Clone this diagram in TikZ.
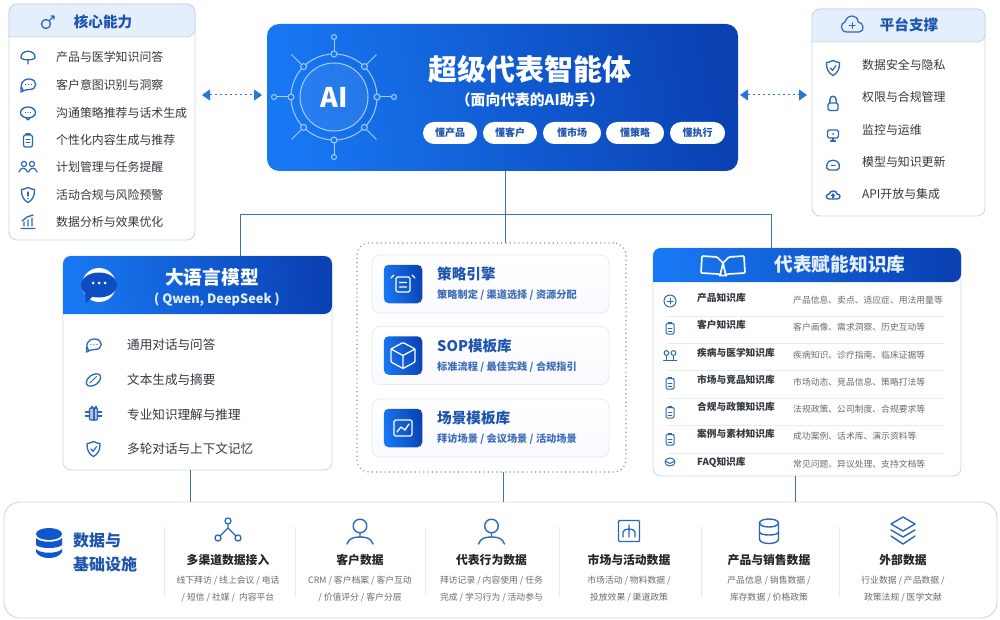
\documentclass[tikz,border=0pt]{standalone}
\usepackage{fontspec}
\setmainfont{Noto Sans CJK SC}
\usetikzlibrary{arrows.meta,positioning}
\definecolor{blueA}{HTML}{1877F2}
\definecolor{blueB}{HTML}{0A42B4}
\definecolor{iconblue}{HTML}{2C66B8}
\definecolor{titleblue}{HTML}{1D55AE}
\definecolor{edgeblue}{HTML}{4070B8}
\definecolor{hdrlight}{HTML}{E4EFFB}
\definecolor{frameblue}{HTML}{CAD7EB}
\definecolor{ruleblue}{HTML}{E6EBF2}
\definecolor{textdark}{HTML}{33393F}
\definecolor{textsoft}{HTML}{666C74}
\definecolor{ringblue}{HTML}{A8CCFA}
\definecolor{dotgray}{HTML}{7D8CA3}

\tikzset{
  ic/.style={draw=iconblue,line width=1pt,line cap=round,line join=round},
  icw/.style={draw=white,line width=1.3pt,line cap=round,line join=round},
  % icons, drawn round 0,0
  keyicon/.pic={\draw[ic,line width=1.3pt] (-2,2) circle [radius=4.5];
    \draw[ic,line width=1.3pt] (1.5,-1.5) -- (6,-6) (3,-6) -- (6,-6) -- (6,-3);},
  pinicon/.pic={\draw[ic,line width=1.3pt] (0,7) -- (0,3) (-7,1) .. controls (-8,-8) and (8,-8) .. (7,1) .. controls (5,3.5) and (-5,3.5) .. (-7,1) -- cycle;},
  chaticon/.pic={\draw[ic,line width=1.3pt] (-5,5) .. controls (-9,1) and (-6,-6) .. (1,-6) .. controls (10,-6) and (10,5) .. (1,4.5) .. controls (-1,4.5) and (-3,5) .. (-7,7) -- (-7,2);
    \fill[iconblue] (-2.5,-0.5) circle [radius=.7] (0.5,-0.5) circle [radius=.7] (3.5,-0.5) circle [radius=.7];},
  bubbleicon/.pic={\draw[ic,line width=1.3pt] (0,-0.5) ellipse [x radius=7.5,y radius=5.5];
    \draw[ic,line width=1.3pt] (-2,5) -- (0,7) -- (2,5);
    \fill[iconblue] (-2.5,-0.5) circle [radius=.7] (0,-0.5) circle [radius=.7] (2.5,-0.5) circle [radius=.7];},
  clipicon/.pic={\draw[ic,line width=1.3pt,rounded corners=1.5] (-4.5,-5) rectangle (4.5,7);
    \draw[ic,line width=1.6pt] (-2,-6) -- (2,-6);
    \draw[ic] (-2,0) -- (2,0) (-2,3) -- (2,3);},
  peopleicon/.pic={\draw[ic,line width=1.2pt] (-4,-3) circle [radius=2.6] (4,-3) circle [radius=2.6];
    \draw[ic,line width=1.2pt] (-9,5) .. controls (-8,0) and (-2,0) .. (-.5,5) (.5,5) .. controls (2,0) and (8,0) .. (9,5);},
  shieldicon/.pic={\draw[ic,line width=1.3pt] (0,-7.5) .. controls (3,-6) and (5,-5.5) .. (6.5,-5.5) .. controls (7,1) and (4,5.5) .. (0,7.5) .. controls (-4,5.5) and (-7,1) .. (-6.5,-5.5) .. controls (-5,-5.5) and (-3,-6) .. (0,-7.5) -- cycle;},
  shieldbar/.pic={\pic {shieldicon}; \draw[ic,line width=1.3pt] (0,-3) -- (0,1) (0,3.5) -- (0,3.6);},
  shieldok/.pic={\pic {shieldicon}; \draw[ic,line width=1.2pt] (-2.8,0) -- (-.5,2.3) -- (3,-2.3);},
  charticon/.pic={\draw[ic,line width=1.3pt] (-7,6.5) -- (7,6.5) (-4,4) -- (-4,0) (0,4) -- (0,-2) (4,4) -- (4,-4) (-6,-1) -- (-1,-5) -- (5,-7);},
  cloudicon/.pic={\draw[ic,line width=1.2pt] (-5,7) .. controls (-12,7) and (-12,-2) .. (-7,-3) .. controls (-5,-11) and (6,-11) .. (6,-3) .. controls (12,-3) and (13,7) .. (7,7) -- cycle;
    \draw[ic] (0,-2.5) -- (0,3.5) (-3,.5) -- (3,.5);},
  lockicon/.pic={\draw[ic,line width=1.4pt,rounded corners=1.5] (-5,0) rectangle (5,7.5);
    \draw[ic,line width=1.4pt] (-3.2,0) -- (-3.2,-3) .. controls (-3.2,-8) and (3.2,-8) .. (3.2,-3) -- (3.2,0);},
  screenicon/.pic={\draw[ic,line width=1.3pt,rounded corners=1.5] (-5.5,-5) rectangle (5.5,3);
    \draw[ic,line width=1.3pt] (-2.5,6) -- (2.5,6) (0,3) -- (0,6);
    \fill[iconblue] (0,-1) circle [radius=1];},
  domeicon/.pic={\draw[ic,line width=1.3pt,rounded corners=2] (-6,5) -- (-6.5,1) .. controls (-5,-6) and (5,-6) .. (6.5,1) -- (6,5) -- cycle;
    \draw[ic] (-2,1) -- (2,1);},
  cloudupicon/.pic={\draw[ic,line width=1.4pt] (-4,4) .. controls (-8,4) and (-7,-1) .. (-4,-1) .. controls (-3,-5) and (4,-5) .. (4,-1) .. controls (8,-1) and (8,4) .. (4,4) -- cycle;
    \fill[iconblue] (0,-2) -- (2.5,1) -- (1,1) -- (1,3.5) -- (-1,3.5) -- (-1,1) -- (-2.5,1) -- cycle;},
  tagicon/.pic={\draw[ic,line width=1.3pt,rotate=35] (0,0) ellipse [x radius=8,y radius=5];
    \draw[ic] (-3.5,3) -- (3,-3.5);},
  crossicon/.pic={\draw[ic,line width=1.3pt,rounded corners=1,fill=iconblue!35] (-4,-6) rectangle (4,6);
    \draw[ic,line width=2pt] (-8,-2) -- (-4,-2) (-8,2) -- (-4,2) (4,-2) -- (8,-2) (4,2) -- (8,2) (-2,-7.5) -- (-2,-6) (2,-7.5) -- (2,-6) (0,-6) -- (0,6);},
  plusicon/.pic={\draw[ic] (0,0) circle [radius=6]; \draw[ic] (-3,0) -- (3,0) (0,-3) -- (0,3);},
  clipthin/.pic={\draw[ic,rounded corners=1.2] (-4,-4.5) rectangle (4,6);
    \draw[ic,line width=1.3pt] (-1.5,-5.5) -- (1.5,-5.5);
    \draw[ic,line width=.7pt] (-2,0) -- (2,0) (-2,3) -- (2,3);},
  groupicon/.pic={\draw[ic] (-3.5,-3) circle [radius=2.4] (3.5,-3) circle [radius=2.4];
    \draw[ic] (-3.5,-.5) -- (-3.5,3.5) (3.5,-.5) -- (3.5,3.5) (-6.5,4.5) -- (6.5,4.5);},
  maillet/.pic={\draw[ic] (0,0) ellipse [x radius=5,y radius=4]; \draw[ic] (-4.5,-1) -- (0,1.5) -- (4.5,-1);},
  % white icons on the blue tiles
  docwhite/.pic={\draw[icw,rounded corners=1.5] (-7,-7) rectangle (7,8);
    \draw[icw] (-3.5,-1.5) -- (3.5,-1.5) (-3.5,3) -- (3.5,3) (-12,-6) -- (-9,-9) (12,-6) -- (9,-9);},
  cubewhite/.pic={\draw[icw,rounded corners=1] (0,-13) -- (12,-6.5) -- (12,6.5) -- (0,13) -- (-12,6.5) -- (-12,-6.5) -- cycle;
    \draw[icw] (-12,-6.5) -- (0,0) -- (12,-6.5) (0,0) -- (0,13);},
  trendwhite/.pic={\draw[icw,rounded corners=1.5] (-9,-8) rectangle (9,8);
    \draw[icw] (-6,4) -- (-2,-1) -- (2,2) -- (6,-4);},
  bookwhite/.pic={\draw[icw,line width=1.7pt,rounded corners=1] (0,-2) -- (-6,-8) -- (-21,-9) -- (-22,8) -- (-5,9) -- (0,11) -- (5,9) -- (22,8) -- (21,-9) -- (6,-8) -- cycle (0,-2) -- (-3,11) (0,-2) -- (3,11);},
  % line icons of the bottom strip
  hubicon/.pic={\draw[ic,line width=1.3pt] (0,-10) circle [radius=3] (-10,7) circle [radius=3] (10,7) circle [radius=3];
    \draw[ic,line width=1.3pt] (0,-7) -- (0,-3) (-8,5) -- (0,-3) -- (8,5);},
  personicon/.pic={\draw[ic,line width=1.4pt] (0,-5) circle [radius=6.8];
    \draw[ic,line width=1.4pt] (0,2) -- (0,6) (-13,13) .. controls (-11,7) and (-6,6) .. (0,6) .. controls (6,6) and (11,7) .. (13,13);},
  marketicon/.pic={\draw[ic,line width=1.4pt,rounded corners=1] (-10.5,-10.5) rectangle (10.5,10.5);
    \draw[ic,line width=1.3pt] (0,-6) -- (0,6) (-6,6) -- (-6,1) .. controls (-6,-3) and (6,-3) .. (6,1) -- (6,6);},
  drumicon/.pic={\draw[ic,line width=1.4pt] (0,-8) ellipse [x radius=9.5,y radius=4];
    \draw[ic,line width=1.4pt] (-9.5,-8) -- (-9.5,8) .. controls (-9.5,14) and (9.5,14) .. (9.5,8) -- (9.5,-8);
    \draw[ic,line width=1.4pt] (-9.5,1) .. controls (-9.5,5) and (9.5,5) .. (9.5,1);},
  layericon/.pic={\draw[ic,line width=1.4pt] (0,-14) -- (12,-7) -- (0,0) -- (-12,-7) -- cycle;
    \draw[ic,line width=1.4pt] (-12,-1) -- (0,6) -- (12,-1) (-12,5) -- (0,13) -- (12,5);}
}

\begin{document}
\begin{tikzpicture}[x=1pt,y=-1pt]
  \tikzset{panel/.style = {shape=rectangle,draw=frameblue,line width=0.9pt,fill=white,rounded corners=8,outer sep=0pt,inner sep=0pt}}
  \tikzset{softhead/.style = {fill=hdrlight,draw=frameblue,line width=0.9pt,rounded corners=8}}
  \tikzset{bluefill/.style = {left color=blueA,right color=blueB,shading angle=100,draw=none}}
  \tikzset{headtext/.style = {inner sep=0pt,text=titleblue,font=\fontsize{14.6}{17}\selectfont\bfseries}}
  \tikzset{itemtext/.style = {anchor=west,inner sep=0pt,text=textdark,font=\fontsize{11.9}{14}\selectfont}}
  \tikzset{llmtext/.style = {anchor=west,inner sep=0pt,text=textdark,font=\fontsize{12.6}{15}\selectfont}}
  \tikzset{pill/.style = {shape=rectangle,fill=white,rounded corners=11,minimum height=22,inner sep=0pt,text=titleblue,font=\fontsize{10}{12}\selectfont\bfseries}}
  \tikzset{card/.style = {shape=rectangle,draw=ruleblue,line width=0.9pt,top color=white,bottom color=black!2!blue!2!white,rounded corners=8,minimum width=237,minimum height=58,inner sep=0pt}}
  \tikzset{tile/.style = {shape=rectangle,bluefill,rounded corners=5,minimum size=38.5,inner sep=0pt}}
  \tikzset{cardtitle/.style = {anchor=west,inner sep=0pt,text=titleblue,font=\fontsize{14.6}{17}\selectfont\bfseries}}
  \tikzset{cardsub/.style = {anchor=west,inner sep=0pt,text=titleblue!85!white,font=\fontsize{10.2}{12}\selectfont\bfseries}}
  \tikzset{kbname/.style = {anchor=west,inner sep=0pt,text=textdark,font=\fontsize{9.7}{12}\selectfont\bfseries}}
  \tikzset{kbinfo/.style = {anchor=west,inner sep=0pt,text=textsoft,font=\fontsize{8.8}{11}\selectfont}}
  \tikzset{rule/.style = {draw=ruleblue,line width=0.8pt}}
  \tikzset{colhead/.style = {inner sep=0pt,text=black!85,font=\fontsize{11.8}{14}\selectfont\bfseries}}
  \tikzset{colline/.style = {inner sep=0pt,text=textsoft,font=\fontsize{8.8}{11}\selectfont}}
  \tikzset{edge/.style = {draw=edgeblue,line width=0.9pt}}
  \tikzset{tipA/.tip={Triangle[length=8pt,width=11pt]}}
  \tikzset{dotlink/.style = {tipA-tipA,color=edgeblue!50!blueA,line width=1pt,dash pattern=on 2pt off 3pt}}
  \tikzset{ring/.style = {draw=ringblue,line width=1pt}}

  \useasboundingbox (0,0) rectangle (1000,620);

  \coordinate (busL) at (240,214);
  \coordinate (busM) at (505,214);
  \coordinate (busR) at (771,214);
  \coordinate (dropL) at (190,490);
  \coordinate (dropM) at (503,490);
  \coordinate (dropR) at (795,490);
  \coordinate (linkA) at (202,95);
  \coordinate (linkB) at (262,95);
  \coordinate (linkC) at (740,95);
  \coordinate (linkD) at (807,95);

  %% panels
  \node[panel,minimum width=186,minimum height=236] (core) at (102,122) {};
  \node[panel,minimum width=173,minimum height=207] (platform) at (898.5,112.5) {};
  \node[panel,rounded corners=12,bluefill,minimum width=471,minimum height=147] (main) at (502.5,97.5) {};
  \node[panel,minimum width=269,minimum height=214] (llm) at (197.5,363) {};
  \node[panel,minimum width=308,minimum height=228] (kb) at (807,362) {};
  \node[panel,rounded corners=12,draw=dotgray,line width=1.1pt,dash pattern=on 1.1pt off 3.2pt,minimum width=269,minimum height=229] (dotbox) at (491.5,357.5) {};
  \node[panel,rounded corners=16,minimum width=993,minimum height=116] (infra) at (500.5,560) {};

  %% connectors
  \draw[edge] (busM |- main.south) -- (busM |- dotbox.north);
  \draw[edge] (busL |- llm.north) -- (busL) -- (busR) -- (busR |- kb.north);
  \foreach \drop/\from in {dropL/llm,dropM/dotbox,dropR/kb}
    \draw[edge] (\drop |- \from.south) -- (\drop |- infra.north);
  \draw[dotlink] (linkA) -- (linkB);
  \draw[dotlink] (linkC) -- (linkD);

  %% core abilities
  \draw[softhead] (core.west |- 0,37) -- (core.north west) -- (core.north east) -- (core.east |- 0,37) [sharp corners] -- cycle;
  \pic at (48,22) {keyicon};
  \node[headtext] (coret) at (103,22) {核心能力};
  \foreach \i/\y/\ic/\t in {1/57/pinicon/产品与医学知识问答,2/85/chaticon/客户意图识别与洞察,3/113/bubbleicon/沟通策略推荐与话术生成,4/140/clipicon/个性化内容生成与推荐,5/167/peopleicon/计划管理与任务提醒,6/195/shieldbar/活动合规与风险预警,7/222/charticon/数据分析与效果优化} {
    \pic at (28,\y) {\ic};
    \node[itemtext] (core\i) at (56,\y) {\t};
  }

  %% platform support
  \draw[softhead] (platform.west |- 0,42) -- (platform.north west) -- (platform.north east) -- (platform.east |- 0,42) [sharp corners] -- cycle;
  \pic at (852,25) {cloudicon};
  \node[headtext] (platformt) at (909,25) {平台支撑};
  \foreach \i/\y/\v/\ic/\t in {1/65/68/shieldok/数据安全与隐私,2/97/103/lockicon/权限与合规管理,3/130/135/screenicon/监控与运维,4/162/165/domeicon/模型与知识更新,5/194/195/cloudupicon/API开放与集成} {
    \pic at (833,\v) {\ic};
    \node[itemtext] (platform\i) at (862,\y) {\t};
  }

  %% main agent
  \fill[white,opacity=.07] (334,97) circle [radius=34];
  \draw[ring] (334,97) circle [radius=43];
  \draw[ring] (334,97) circle [radius=34];
  \foreach \a in {0,90,180,270} {
    \draw[ring] (334,97) ++(\a:46) -- ++(\a:11);
    \draw[ring,fill=blueA] (334,97) ++(\a:60) circle [radius=2.5];
  }
  \foreach \a in {45,135,225,315}
    \draw[ring] (334,97) ++(\a:46) -- ++(\a:14);
  \foreach \a in {0,45,...,315}
    \draw[ring,fill=blueA] (334,97) ++(\a:43) circle [radius=3];
  \node[text=white,inner sep=0pt,font=\fontsize{27}{30}\selectfont\bfseries] (ai) at (334,97) {AI};
  \node[text=white,inner sep=0pt,font=\fontsize{29}{33}\selectfont\bfseries] (maint) at (530,69) {超级代表智能体};
  \node[text=white,inner sep=0pt,font=\fontsize{14.8}{17}\selectfont\bfseries] (mains) at (530,100) {（面向代表的AI助手）};
  \foreach \i/\x/\w/\t in {1/450/54/懂产品,2/510/54/懂客户,3/572/58/懂市场,4/635/58/懂策略,5/697.5/55/懂执行}
    \node[pill,minimum width=\w] (pill\i) at (\x,133) {\t};

  %% language model
  \path[bluefill,rounded corners=8] (llm.west |- 0,314) -- (llm.north west) -- (llm.north east) -- (llm.east |- 0,314) [sharp corners] -- cycle;
  \fill[white] (99,285) circle [radius=17];
  \fill[blueB!80!blueA] (99,285) ellipse [x radius=18,y radius=12.5];
  \fill[blueB!80!blueA] (84,288) -- (86,303) -- (93,296) -- cycle;
  \fill[white] (93,283) circle [radius=1.5] (99,283) circle [radius=1.5] (105,283) circle [radius=1.5];
  \node[text=white,inner sep=0pt,font=\fontsize{18.7}{22}\selectfont\bfseries] (llmt) at (212,277) {大语言模型};
  \node[text=hdrlight,inner sep=0pt,font=\fontsize{12.8}{15}\selectfont\bfseries] (llms) at (217,300) {( Qwen, DeepSeek )};
  \foreach \i/\y/\ic/\t in {1/345/chaticon/通用对话与问答,2/380/tagicon/文本生成与摘要,3/414/crossicon/专业知识理解与推理,4/449/shieldok/多轮对话与上下文记忆} {
    \pic at (93.5,\y) {\ic};
  }
  \foreach \i/\y/\t in {1/345/通用对话与问答,2/380/文本生成与摘要,3/415/专业知识理解与推理,4/449/多轮对话与上下文记忆}
    \node[llmtext] (llm\i) at (127,\y) {\t};

  %% engine cards
  \foreach \i/\y/\ic/\t/\s in {1/284/docwhite/策略引擎/{策略制定 / 渠道选择 / 资源分配},2/355.5/cubewhite/SOP模板库/{标准流程 / 最佳实践 / 合规指引},3/428/trendwhite/场景模板库/{拜访场景 / 会议场景 / 活动场景}} {
    \node[card] (card\i) at (490.5,\y) {};
    \node[tile] (tile\i) at (403,\y) {};
    \pic at (tile\i) {\ic};
    \node[cardtitle] (cardt\i) at (437,\y-10) {\t};
    \node[cardsub] (cards\i) at (437,\y+11) {\s};
  }

  %% knowledge base
  \path[bluefill,rounded corners=8] (kb.west |- 0,282) -- (kb.north west) -- (kb.north east) -- (kb.east |- 0,282) [sharp corners] -- cycle;
  \pic at (723,265) {bookwhite};
  \node[text=hdrlight,inner sep=0pt,font=\fontsize{18.7}{22}\selectfont\bfseries] (kbt) at (840,264) {代表赋能知识库};
  \foreach \y in {316,343,370,398,425,453}
    \draw[rule] (668,\y) -- (944,\y);
  \foreach \i/\y/\v/\ic/\a/\b in {1/298/301/plusicon/产品知识库/产品信息、卖点、适应症、用法用量等,2/325/328/clipthin/客户知识库/客户画像、需求洞察、历史互动等,3/353/356/groupicon/疾病与医学知识库/疾病知识、诊疗指南、临床证据等,4/380/383/clipthin/市场与竞品知识库/市场动态、竞品信息、策略打法等,5/407/412/clipthin/合规与政策知识库/法规政策、公司制度、合规要求等,6/434/439/clipthin/案例与素材知识库/成功案例、话术库、演示资料等,7/462/462/maillet/FAQ知识库/常见问题、异议处理、支持文档等} {
    \pic at (670,\v) {\ic};
    \node[kbname] (kbn\i) at (697,\y) {\a};
    \node[kbinfo] (kbi\i) at (793,\y+2) {\b};
  }

  %% data and infrastructure
  \fill[blueA!40!blueB] (49,534) ellipse [x radius=13,y radius=6];
  \fill[blueA!40!blueB] (36,538) .. controls (40,543) and (58,543) .. (62,538) -- (62,545) .. controls (58,549) and (40,549) .. (36,545) -- cycle;
  \fill[blueA!40!blueB] (36,549) .. controls (40,554) and (58,554) .. (62,549) -- (62,552) .. controls (58,560) and (40,560) .. (36,552) -- cycle;
  \node[anchor=west,inner sep=0pt,text=titleblue,font=\fontsize{16}{19}\selectfont\bfseries] (infra1) at (73,540) {数据与};
  \node[anchor=west,inner sep=0pt,text=titleblue,font=\fontsize{16}{19}\selectfont\bfseries] (infra2) at (73,564) {基础设施};
  \foreach \x in {164,295,425,559,701,839}
    \draw[rule] (\x,527) -- (\x,597);
  \foreach \i/\x/\ic/\t/\a/\b in {1/228/hubicon/多渠道数据接入/{线下拜访 / 线上会议 / 电话}/{/ 短信 / 社媒 /\ \ 内容平台},2/360/personicon/客户数据/{CRM / 客户档案 / 客户互动}/{/ 价值评分 / 客户分层},3/491.5/personicon/代表行为数据/{拜访记录 / 内容使用 / 任务}/{完成 / 学习行为 / 活动参与},4/629/marketicon/市场与活动数据/{市场活动 / 物料数据 /}/{投放效果 / 渠道政策},5/769/drumicon/产品与销售数据/{产品信息 / 销售数据 /}/{库存数据 / 价格政策},6/903/layericon/外部数据/{行业数据 / 产品数据 /}/{政策法规 / 医学文献}} {
    \pic at (\x,531) {\ic};
    \node[colhead] (colt\i) at (\x,560) {\t};
    \node[colline] (cola\i) at (\x,581) {\a};
    \node[colline] (colb\i) at (\x,598) {\b};
  }
\end{tikzpicture}
\end{document}
